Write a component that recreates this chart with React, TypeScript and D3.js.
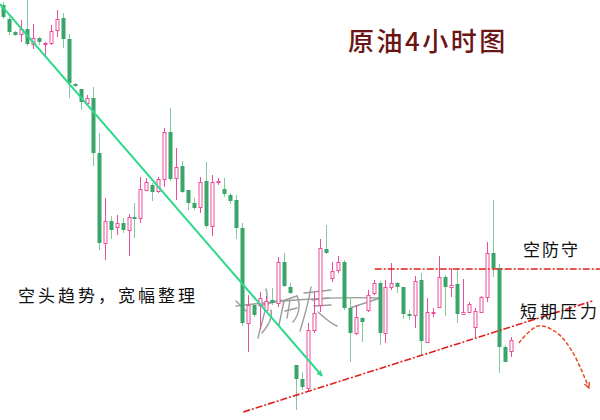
import React from "react";
import * as d3 from "d3";

const W = 600;
const H = 420;

// 4-hour crude oil candles (price units)
const opens = [
  47.95, 47.81, 47.68, 47.66, 47.71, 47.56, 47.62, 47.56, 47.57, 47.7,
  47.82, 47.61, 47.16, 47.11, 46.97, 47.02, 46.47, 45.57, 45.79, 45.73,
  45.77, 45.7, 45.83, 45.82, 46.1, 46.15, 46.09, 46.21, 46.68, 46.22,
  46.34, 46.1, 45.97, 45.93, 46.19, 45.74, 46.18, 46.11, 46.05, 46.0,
  45.72, 44.77, 44.95, 44.95, 44.9, 45.0, 44.97, 45.38, 45.13, 44.35,
  44.21, 44.12, 44.7, 44.95, 45.51, 45.22, 45.3, 45.38, 44.92, 44.67,
  44.82, 44.9, 45.07, 45.17, 44.67, 45.13, 45.17, 45.13, 44.86, 44.85,
  45.2, 44.58, 44.87, 44.93, 45.23, 45.13, 45.16, 44.86, 44.88, 44.73,
  44.88, 45.03, 45.47, 45.32, 44.53, 44.49,
];
const closes = [
  47.83, 47.68, 47.65, 47.71, 47.56, 47.62, 47.58, 47.57, 47.69, 47.81,
  47.61, 47.17, 47.14, 46.98, 47.02, 46.47, 45.57, 45.79, 45.7, 45.77,
  45.7, 45.83, 45.81, 46.11, 46.18, 46.08, 46.21, 46.68, 46.21, 46.33,
  46.08, 45.97, 45.92, 46.18, 45.74, 46.18, 46.19, 46.06, 45.99, 45.72,
  44.77, 44.95, 44.85, 45.02, 44.99, 44.97, 45.38, 45.14, 45.07, 44.21,
  44.13, 44.7, 44.87, 45.52, 45.47, 45.29, 45.38, 44.92, 44.67, 44.83,
  44.78, 45.05, 45.17, 44.67, 45.13, 45.17, 45.13, 44.86, 44.84, 45.19,
  44.59, 44.88, 44.88, 45.23, 45.13, 45.15, 44.86, 44.88, 44.96, 44.89,
  45.03, 45.47, 45.32, 44.53, 44.38, 44.6,
];
const highs = [
  47.98, 47.83, 47.69, 47.8, 48.0, 47.76, 47.63, 47.58, 47.75, 47.9,
  47.87, 47.66, 47.17, 47.11, 47.05, 47.13, 46.67, 46.02, 45.84, 45.85,
  45.82, 45.86, 45.97, 46.23, 46.22, 46.17, 46.23, 46.72, 46.92, 46.52,
  46.39, 46.1, 46.02, 46.23, 46.38, 46.25, 46.22, 46.22, 46.07, 46.05,
  45.77, 45.05, 44.97, 45.08, 45.04, 45.12, 45.43, 45.47, 45.17, 44.35,
  44.28, 44.77, 45.08, 45.61, 45.75, 45.38, 45.44, 45.4, 45.03, 44.95,
  44.83, 45.1, 45.2, 45.19, 45.2, 45.37, 45.18, 45.13, 44.9, 45.24,
  45.27, 45.02, 44.92, 45.44, 45.25, 45.32, 45.32, 45.21, 44.98, 44.92,
  45.04, 45.58, 46.0, 45.36, 44.55, 44.63,
];
const lows = [
  47.81, 47.65, 47.64, 47.58, 47.54, 47.51, 47.55, 47.45, 47.55, 47.63,
  47.52, 47.02, 47.13, 46.9, 46.96, 46.34, 45.5, 45.4, 45.61, 45.65,
  45.67, 45.44, 45.62, 45.77, 46.09, 45.99, 46.07, 46.13, 46.19, 46.0,
  46.07, 45.9, 45.9, 45.87, 45.72, 45.64, 46.15, 46.03, 45.96, 45.61,
  44.74, 44.48, 44.83, 44.7, 44.88, 44.95, 44.93, 45.13, 45.06, 43.9,
  44.1, 44.08, 44.67, 44.88, 45.46, 45.18, 45.27, 44.9, 44.38, 44.65,
  44.58, 44.88, 45.05, 44.55, 44.57, 45.1, 45.07, 44.81, 44.8, 44.72,
  44.45, 44.57, 44.83, 44.92, 44.84, 45.03, 44.77, 44.85, 44.87, 44.63,
  44.87, 44.98, 45.23, 44.27, 44.38, 44.43,
];

// annotation anchors in (candle index, price)
const trendLine = [
  { i: -0.5, p: 47.96 },
  { i: 53.4, p: 44.24 },
];
const resistanceLine = [
  { i: 62.2, p: 45.31 },
  { i: 99.9, p: 45.31 },
];
const supportLine = [
  { i: 40.2, p: 43.88 },
  { i: 98.6, p: 44.99 },
];
const forecastPath = [
  { i: 86.3, p: 44.57 },
  { i: 89.5, p: 44.74 },
  { i: 92.5, p: 44.68 },
  { i: 95.2, p: 44.49 },
  { i: 97.9, p: 44.14 },
];

const title = "原油4小时图";
const labelTrend = "空头趋势，宽幅整理";
const labelDefend = "空防守";
const labelPressure = "短期压力";

const GREEN = "#3aa56a";
const GREEN_WICK = "#7fcb9c";
const PINK = "#ee4c9c";
const FONT = "'Noto Sans CJK SC', 'Noto Sans', sans-serif";

export default function App() {
  const x = d3.scaleLinear().domain([0, opens.length - 1]).range([3, 511]);
  const y = d3.scaleLinear().domain([48, 43.8]).range([0, 420]);

  const candles = opens.map((o, i) => ({
    o,
    c: closes[i],
    h: highs[i],
    l: lows[i],
    i,
  }));

  const lineGen = d3
    .line<{ i: number; p: number }>()
    .x((d) => x(d.i))
    .y((d) => y(d.p));
  const curveGen = d3
    .line<{ i: number; p: number }>()
    .x((d) => x(d.i))
    .y((d) => y(d.p))
    .curve(d3.curveCatmullRom.alpha(0.5));

  return (
    <svg
      width={W}
      height={H}
      style={{ position: "absolute", left: 0, top: 0, background: "#fff" }}
    >
      <defs>
        <marker
          id="arrG"
          viewBox="0 0 10 10"
          refX="9"
          refY="5"
          markerWidth="6"
          markerHeight="6"
          orient="auto"
          markerUnits="userSpaceOnUse"
        >
          <path d="M0,0 L10,5 L0,10 Z" fill="#2fd98a" />
        </marker>
        <marker
          id="arrR"
          viewBox="0 0 10 10"
          refX="5"
          refY="5"
          markerWidth="7"
          markerHeight="7"
          orient="auto"
          markerUnits="userSpaceOnUse"
        >
          <path d="M0,1 L8,5 L0,9" fill="none" stroke="#ea4a1e" strokeWidth="2" />
        </marker>
      </defs>
      <rect x={0} y={0} width={W} height={H} fill="#fff" />

      {/* signature watermark */}
      <g fill="none" stroke="#8a8a8a" strokeWidth={1.4} strokeLinecap="round" opacity={0.85}>
        <path d="M236,306 C270,302 320,296 380,298" />
        <path d="M350,308 L380,298" />
        <path d="M236,301 L246,311" />
        <path d="M266,289 C270,300 262,320 258,338" />
        <path d="M260,306 L281,300" />
        <path d="M271,310 C273,318 268,326 262,333" />
        <path d="M282,301 L297,296" />
        <path d="M284,301 L279,325" />
        <path d="M290,300 L287,318" />
        <path d="M297,296 C301,305 299,315 293,322" />
        <path d="M285,311 L297,308" />
        <path d="M304,293 L331,290" />
        <path d="M311,287 C309,300 305,315 300,331" />
        <path d="M312,300 L329,298" />
        <path d="M314,306 L331,305" />
        <path d="M318,312 C325,318 330,323 337,326" />
      </g>

      {/* candles */}
      {candles.map((d) => {
        const cx = Math.round(x(d.i));
        const up = d.c >= d.o;
        const top = y(Math.max(d.o, d.c));
        const bot = y(Math.min(d.o, d.c));
        const bh = Math.max(1, bot - top);
        return (
          <g key={d.i}>
            <line
              x1={cx + 0.5}
              x2={cx + 0.5}
              y1={y(d.h)}
              y2={y(d.l)}
              stroke={up ? PINK : GREEN_WICK}
              strokeWidth={1}
            />
            {up ? (
              <rect
                x={cx - 1}
                y={Math.round(top) + 0.5}
                width={3}
                height={Math.max(1, Math.round(bh))}
                fill="#fff"
                stroke={PINK}
                strokeWidth={1}
              />
            ) : (
              <rect
                x={cx - 1.5}
                y={top}
                width={4}
                height={bh}
                fill={GREEN}
              />
            )}
          </g>
        );
      })}

      {/* trend line with arrow */}
      <path
        d={lineGen(trendLine) || ""}
        stroke="#2fd98a"
        strokeWidth={2}
        fill="none"
        markerEnd="url(#arrG)"
      />
      {/* resistance */}
      <path
        d={lineGen(resistanceLine) || ""}
        stroke="#e0201c"
        strokeWidth={1.6}
        strokeDasharray="7,2,2,2"
        fill="none"
      />
      {/* rising support / pressure */}
      <path
        d={lineGen(supportLine) || ""}
        stroke="#e0201c"
        strokeWidth={1.6}
        strokeDasharray="7,2,2,2"
        fill="none"
      />
      {/* forecast curve */}
      <path
        d={curveGen(forecastPath) || ""}
        stroke="#ea4a1e"
        strokeWidth={1.5}
        strokeDasharray="4,2"
        fill="none"
        markerEnd="url(#arrR)"
      />

      {/* texts */}
      <text
        x={348}
        y={51}
        fontFamily={FONT}
        fontSize={26}
        letterSpacing={2.5}
        fill="#6b1616"
        fontWeight={500}
      >
        {title}
      </text>
      <text x={18} y={302} fontFamily={FONT} fontSize={17} letterSpacing={3} fill="#111">
        {labelTrend}
      </text>
      <text x={523} y={256} fontFamily={FONT} fontSize={17} letterSpacing={2} fill="#111">
        {labelDefend}
      </text>
      <text x={520} y={318} fontFamily={FONT} fontSize={17} letterSpacing={3} fill="#111">
        {labelPressure}
      </text>
    </svg>
  );
}
